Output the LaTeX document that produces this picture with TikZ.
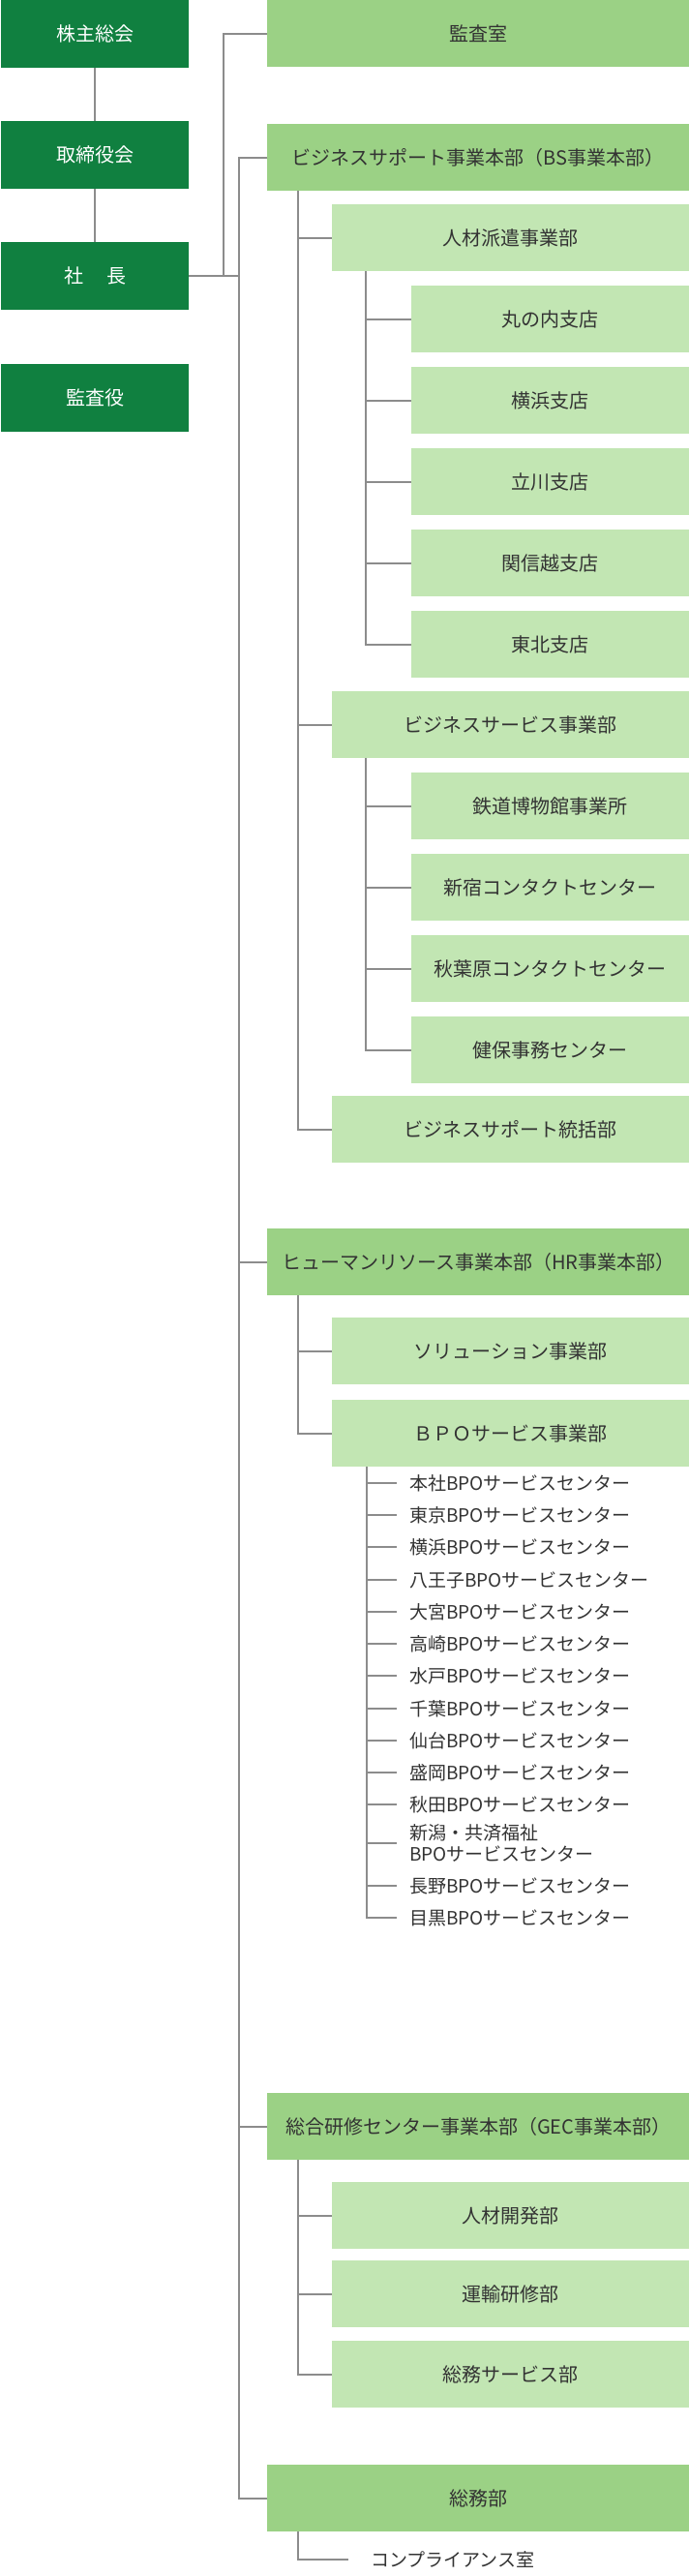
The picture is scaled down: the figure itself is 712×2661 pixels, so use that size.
\documentclass[tikz,border=0pt]{standalone}
\usepackage{fontspec}
\setmainfont{Noto Sans CJK JP}
\begin{document}
\begin{tikzpicture}[x=1pt,y=-1pt,
  dk/.style={fill=dkg,text=white,anchor=north west,minimum width=194pt,minimum height=70pt,inner sep=0pt,font=\fontsize{20}{24}\selectfont},
  md/.style={fill=mdg,text=txt,anchor=north west,minimum height=69pt,inner sep=0pt,font=\fontsize{20}{24}\selectfont},
  lt/.style={fill=ltg,text=txt,anchor=north west,minimum height=69pt,inner sep=0pt,font=\fontsize{20}{24}\selectfont},
  item/.style={text=txt,anchor=west,inner sep=0pt,align=left,font=\fontsize{19}{22}\selectfont},
  ln/.style={draw=lng,line width=2pt}]
\definecolor{dkg}{HTML}{108040}
\definecolor{mdg}{HTML}{9BD185}
\definecolor{ltg}{HTML}{C2E6B3}
\definecolor{txt}{HTML}{333333}
\definecolor{lng}{HTML}{8C8C8C}
\useasboundingbox (0,0) rectangle (712,2661);
% left column
\node[dk] (kabu) at (1,0) {株主総会};
\node[dk] (tori) at (1,125) {取締役会};
\node[dk] (sha) at (1,250) {社\hspace{1.2em}長};
\node[dk] (kan) at (1,376) {監査役};
\draw[ln] (kabu.south) -- (tori.north);
\draw[ln] (tori.south) -- (sha.north);
% level 1
\def\lvA#1#2#3{\node[md,minimum width=436pt] (#1) at (276,#2) {#3};}
\def\lvB#1#2#3{\node[lt,minimum width=369pt] (#1) at (343,#2) {#3};}
\def\lvC#1#2#3{\node[lt,minimum width=287pt] (#1) at (425,#2) {#3};}
\lvA{kansa}{0}{監査室}
\lvA{bs}{128}{ビジネスサポート事業本部（BS事業本部）}
\lvA{hr}{1269}{ヒューマンリソース事業本部（HR事業本部）}
\lvA{gec}{2162}{総合研修センター事業本部（GEC事業本部）}
\lvA{soumu}{2546}{総務部}
\coordinate (xa) at (231,0);
\coordinate (xb) at (247,0);
\draw[ln] (sha.east) -- (sha.east -| xa) |- (kansa.west);
\draw[ln] (sha.east) -- (sha.east -| xb);
\draw[ln] (bs.west) -| (xb |- soumu.west) -- (soumu.west);
\foreach \n in {hr,gec} \draw[ln] (\n.west -| xb) -- (\n.west);
% BS
\lvB{jinzai}{211}{人材派遣事業部}
\lvC{maru}{295}{丸の内支店}
\lvC{yoko}{379}{横浜支店}
\lvC{tachi}{463}{立川支店}
\lvC{kan2}{547}{関信越支店}
\lvC{tou}{631}{東北支店}
\lvB{bsv}{714}{ビジネスサービス事業部}
\lvC{tetsu}{798}{鉄道博物館事業所}
\lvC{shin}{882}{新宿コンタクトセンター}
\lvC{aki}{966}{秋葉原コンタクトセンター}
\lvC{ken}{1050}{健保事務センター}
\lvB{tok}{1132}{ビジネスサポート統括部}
\coordinate (xc) at (308,0);
\coordinate (xd) at (378,0);
\draw[ln] (bs.south -| xc) |- (tok.west);
\foreach \n in {jinzai,bsv} \draw[ln] (\n.west -| xc) -- (\n.west);
\draw[ln] (jinzai.south -| xd) |- (tou.west);
\foreach \n in {maru,yoko,tachi,kan2} \draw[ln] (\n.west -| xd) -- (\n.west);
\draw[ln] (bsv.south -| xd) |- (ken.west);
\foreach \n in {tetsu,shin,aki} \draw[ln] (\n.west -| xd) -- (\n.west);
% HR
\lvB{sol}{1361}{ソリューション事業部}
\lvB{bpo}{1446}{ＢＰＯサービス事業部}
\draw[ln] (hr.south -| xc) |- (bpo.west);
\draw[ln] (sol.west -| xc) -- (sol.west);
\coordinate (xe) at (379,0);
\coordinate (xf) at (410,0);
\foreach \n/\y/\t in {i1/1532/本社,i2/1565/東京,i3/1598/横浜,i4/1632/八王子,i5/1665/大宮,i6/1698/高崎,i7/1731/水戸,i8/1765/千葉,i9/1798/仙台,i10/1831/盛岡,i11/1864/秋田,i13/1948/長野,i14/1981/目黒}{
  \node[item] (\n) at (423,\y) {\t BPOサービスセンター};
  \draw[ln] (\n.west -| xe) -- (\n.west -| xf);
}
\node[item] (i12) at (423,1904) {新潟・共済福祉\\BPOサービスセンター};
\draw[ln] (i12.west -| xe) -- (i12.west -| xf);
\draw[ln] (bpo.south -| xe) |- (i14.west -| xf);
% GEC
\lvB{kai}{2254}{人材開発部}
\lvB{unyu}{2335}{運輸研修部}
\lvB{sserv}{2418}{総務サービス部}
\draw[ln] (gec.south -| xc) |- (sserv.west);
\foreach \n in {kai,unyu} \draw[ln] (\n.west -| xc) -- (\n.west);
% soumu
\node[item] (comp) at (383,2644) {コンプライアンス室};
\coordinate (xg) at (360,0);
\draw[ln] (soumu.south -| xc) |- (comp.west -| xg);
\end{tikzpicture}
\end{document}
